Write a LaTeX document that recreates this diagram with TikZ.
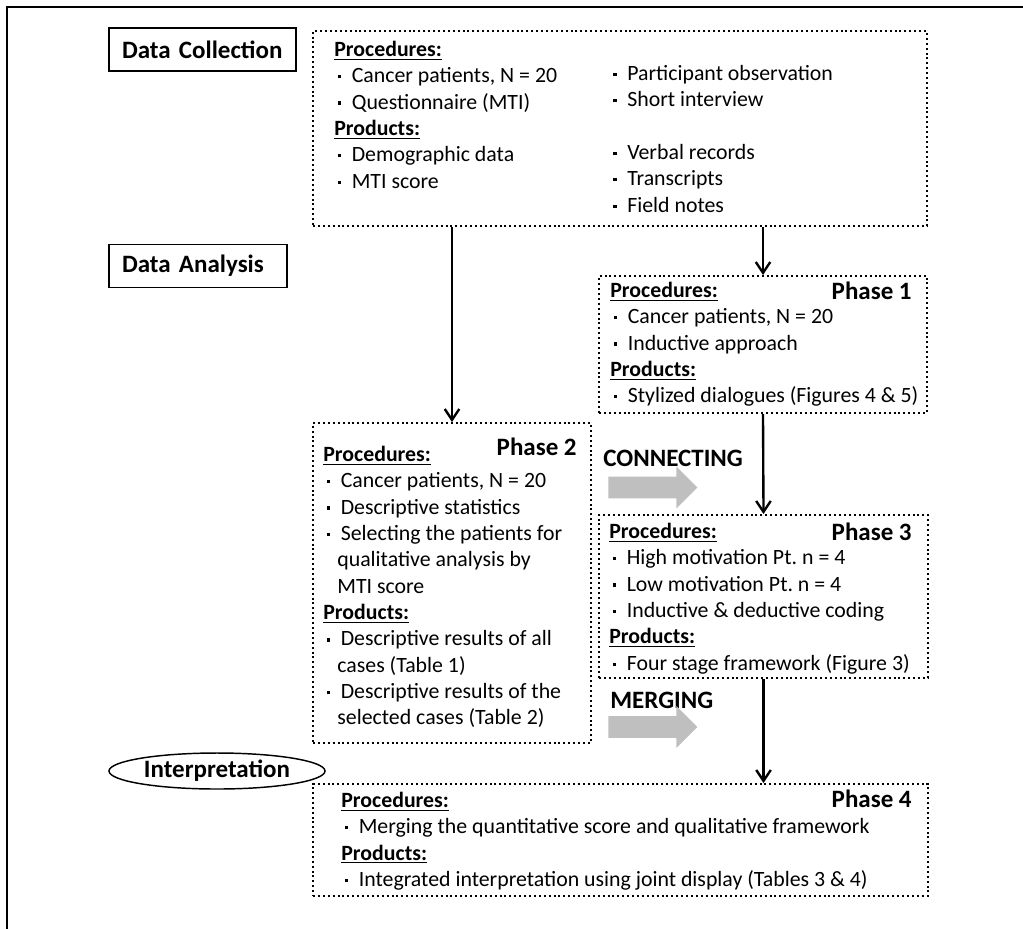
\documentclass[tikz,border=0pt]{standalone}
\usepackage{fontspec}
\setmainfont{Carlito}
\usetikzlibrary{positioning, shapes.geometric, shapes.arrows, arrows.meta}
\definecolor{arrowgray}{HTML}{BFBFBF}
\newcommand{\bodysize}{\fontsize{12}{14.5}\selectfont}
\newcommand{\headsize}{\fontsize{13.75}{16}\selectfont}
\newcommand{\itm}{\makebox[0.8em][l]{\kern1.9pt\raisebox{2.4pt}{\rule{1.8pt}{1.8pt}}}}
\newcommand{\cont}{\hspace*{7.7pt}}
\newcommand{\hd}[1]{\underline{\textbf{#1}}}
\tikzstyle{frame} = [line width=1.3pt]
\tikzstyle{stage} = [rectangle, draw=black, line width=0.8pt, inner xsep=7.15pt, inner ysep=0pt, align=left, minimum height=23.65pt, font=\headsize\bfseries]
\tikzstyle{oval} = [ellipse, draw=black, line width=0.8pt, inner sep=0pt, minimum width=118.8pt, minimum height=19.8pt, font=\headsize\bfseries]
\tikzstyle{dotbox} = [rectangle, draw=black, line width=1.1pt, dash pattern=on 1.1pt off 1.6pt, inner sep=0pt]
\tikzstyle{body} = [anchor=north west, align=left, inner sep=0pt, font=\bodysize]
\tikzstyle{phase} = [anchor=base east, inner sep=0pt, font=\headsize\bfseries]
\tikzstyle{mix} = [anchor=base west, inner sep=0pt, font=\headsize\bfseries]
\tikzstyle{fatarrow} = [single arrow, fill=arrowgray, draw=none, anchor=tail, inner xsep=0pt, inner ysep=5.8pt, minimum height=48.95pt, single arrow head extend=5.5pt]
\tikzstyle{arrow} = [line width=1.3pt, -{Straight Barb[length=6pt,width=8pt]}]

\begin{document}
\begin{tikzpicture}[x=0.55pt, y=-0.55pt]
\useasboundingbox (0,0) rectangle (1023,928);
\begin{scope}
\clip (0,0) rectangle (1023,928);
\draw [frame] (7,7) rectangle (1040,950);
\end{scope}
% stage labels
\node (collection_lbl) [stage, text width=88.55pt] at (202.5,49.5) {Data Collection};
\node (analysis_lbl) [stage, text width=83.6pt, below=94.6pt of collection_lbl.south west, anchor=north west] {Data Analysis};
\node (interp_lbl) [oval] at (217,771) {Interpretation};
% data collection
\node (dc_box) [dotbox, minimum width=337.7pt, minimum height=107.25pt] at (620,128.5) {};
\node (dc_left) [body] at (334,37.5) {\strut\hd{Procedures:}\\ \itm Cancer patients, N = 20\\ \itm Questionnaire (MTI)\\ \hd{Products:}\\ \itm Demographic data\\ \itm MTI score};
\node (dc_right) [body] at (609.5,61.5) {\strut\itm Participant observation\\ \itm Short interview\\[14.5pt] \itm Verbal records\\ \itm Transcripts\\ \itm Field notes};
% phase 1
\node (p1_box) [dotbox, minimum width=180.4pt, minimum height=75.35pt] at (763,344.5) {};
\node (p1_text) [body] at (610,278.5) {\strut\hd{Procedures:}\\ \itm Cancer patients, N = 20\\ \itm Inductive approach\\ \hd{Products:}\\ \itm Stylized dialogues (Figures 4 \& 5)};
\node (p1_lbl) [phase] at (912,299) {Phase 1};
% phase 2
\node (p2_box) [dotbox, minimum width=152.9pt, minimum height=176pt] at (452,583) {};
\node (p2_text) [body] at (323,442.5) {\strut\hd{Procedures:}\\ \itm Cancer patients, N = 20\\ \itm Descriptive statistics\\ \itm Selecting the patients for\\ \cont qualitative analysis by\\ \cont MTI score\\ \hd{Products:}\\ \itm Descriptive results of all\\ \cont cases (Table 1)\\ \itm Descriptive results of the\\ \cont selected cases (Table 2)};
\node (p2_lbl) [phase] at (577,455) {Phase 2};
% phase 3
\node (p3_box) [dotbox, minimum width=181pt, minimum height=89.65pt] at (763.5,596.5) {};
\node (p3_text) [body] at (609,519.5) {\strut\hd{Procedures:}\\ \itm High motivation Pt.\ n = 4\\ \itm Low motivation Pt.\ n = 4\\ \itm Inductive \& deductive coding\\ \hd{Products:}\\ \itm Four stage framework (Figure 3)};
\node (p3_lbl) [phase] at (912,540) {Phase 3};
% phase 4
\node (p4_box) [dotbox, minimum width=338.25pt, minimum height=61.6pt] at (620.5,840) {};
\node (p4_text) [body] at (341,788.5) {\strut\hd{Procedures:}\\ \itm Merging the quantitative score and qualitative framework\\ \hd{Products:}\\ \itm Integrated interpretation using joint display (Tables 3 \& 4)};
\node (p4_lbl) [phase] at (912,807) {Phase 4};
% mixing steps
\node (conn_lbl) [mix] at (603,466) {CONNECTING};
\node (conn_arrow) [fatarrow] at (608,487.5) {};
\node (merge_lbl) [mix] at (610,708) {MERGING};
\node (merge_arrow) [fatarrow] at (608,727) {};
% flow
\draw [arrow] (dc_box.south -| p2_box.north) -- (p2_box.north);
\draw [arrow] (dc_box.south -| p1_box.north) -- (p1_box.north);
\draw [arrow] (p1_box.south) -- (p3_box.north);
\draw [arrow] (p3_box.south) -- (p3_box.south |- p4_box.north);
\end{tikzpicture}
\end{document}
